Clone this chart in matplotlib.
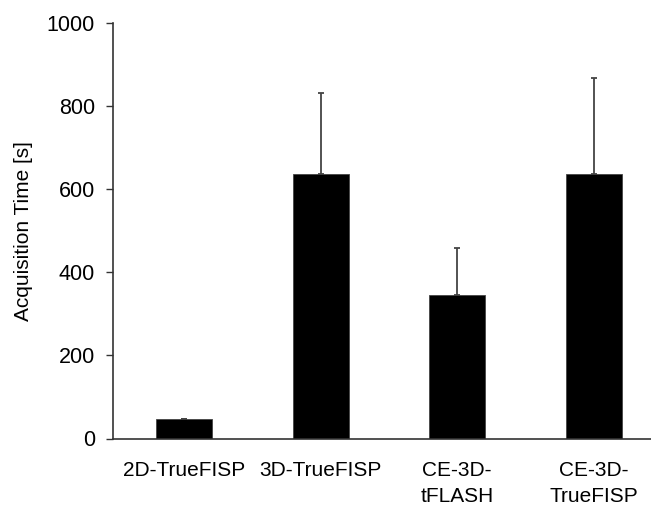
import matplotlib
matplotlib.use("Agg")
import matplotlib.pyplot as plt
import numpy as np

plt.rcParams['font.family'] = ['Liberation Sans', 'DejaVu Sans']

categories = ["2D-TrueFISP", "3D-TrueFISP", "CE-3D-\ntFLASH", "CE-3D-\nTrueFISP"]
values = [46, 635, 346, 636]
errors = [2, 196, 113, 230]
yticks = [0, 200, 400, 600, 800, 1000]

fig = plt.figure(figsize=(6.51, 5.05), dpi=100)
ax = fig.add_axes([113/651, 1 - 438.5/505, 1 - 113/651, (438.5 - 22.7)/505])

x = np.arange(len(categories))
ax.bar(x, values, width=0.41, color='black', edgecolor='#444444', linewidth=0.6, zorder=2)
ax.errorbar(x, values, yerr=[np.zeros(len(errors)), errors], fmt='none',
            ecolor='#444444', elinewidth=1.3, capsize=2, capthick=1.3, zorder=1)

ax.set_xlim(-0.52, 3.42)
ax.set_ylim(0, 1000)
ax.set_yticks(yticks)
ax.set_yticklabels([str(t) for t in yticks], fontsize=15.5)
ax.set_xticks(x)
ax.set_xticklabels(categories, fontsize=15, linespacing=1.5)
ax.tick_params(axis='x', length=0, pad=16)
ax.tick_params(axis='y', direction='out', length=5, width=1, color='#333333', pad=8)
ax.set_ylabel("Acquisition Time [s]", fontsize=15, labelpad=10)

for s in ['top', 'right']:
    ax.spines[s].set_visible(False)
for s in ['left', 'bottom']:
    ax.spines[s].set_color('#333333')
    ax.spines[s].set_linewidth(1.2)

fig.savefig("out.png", dpi=100)
